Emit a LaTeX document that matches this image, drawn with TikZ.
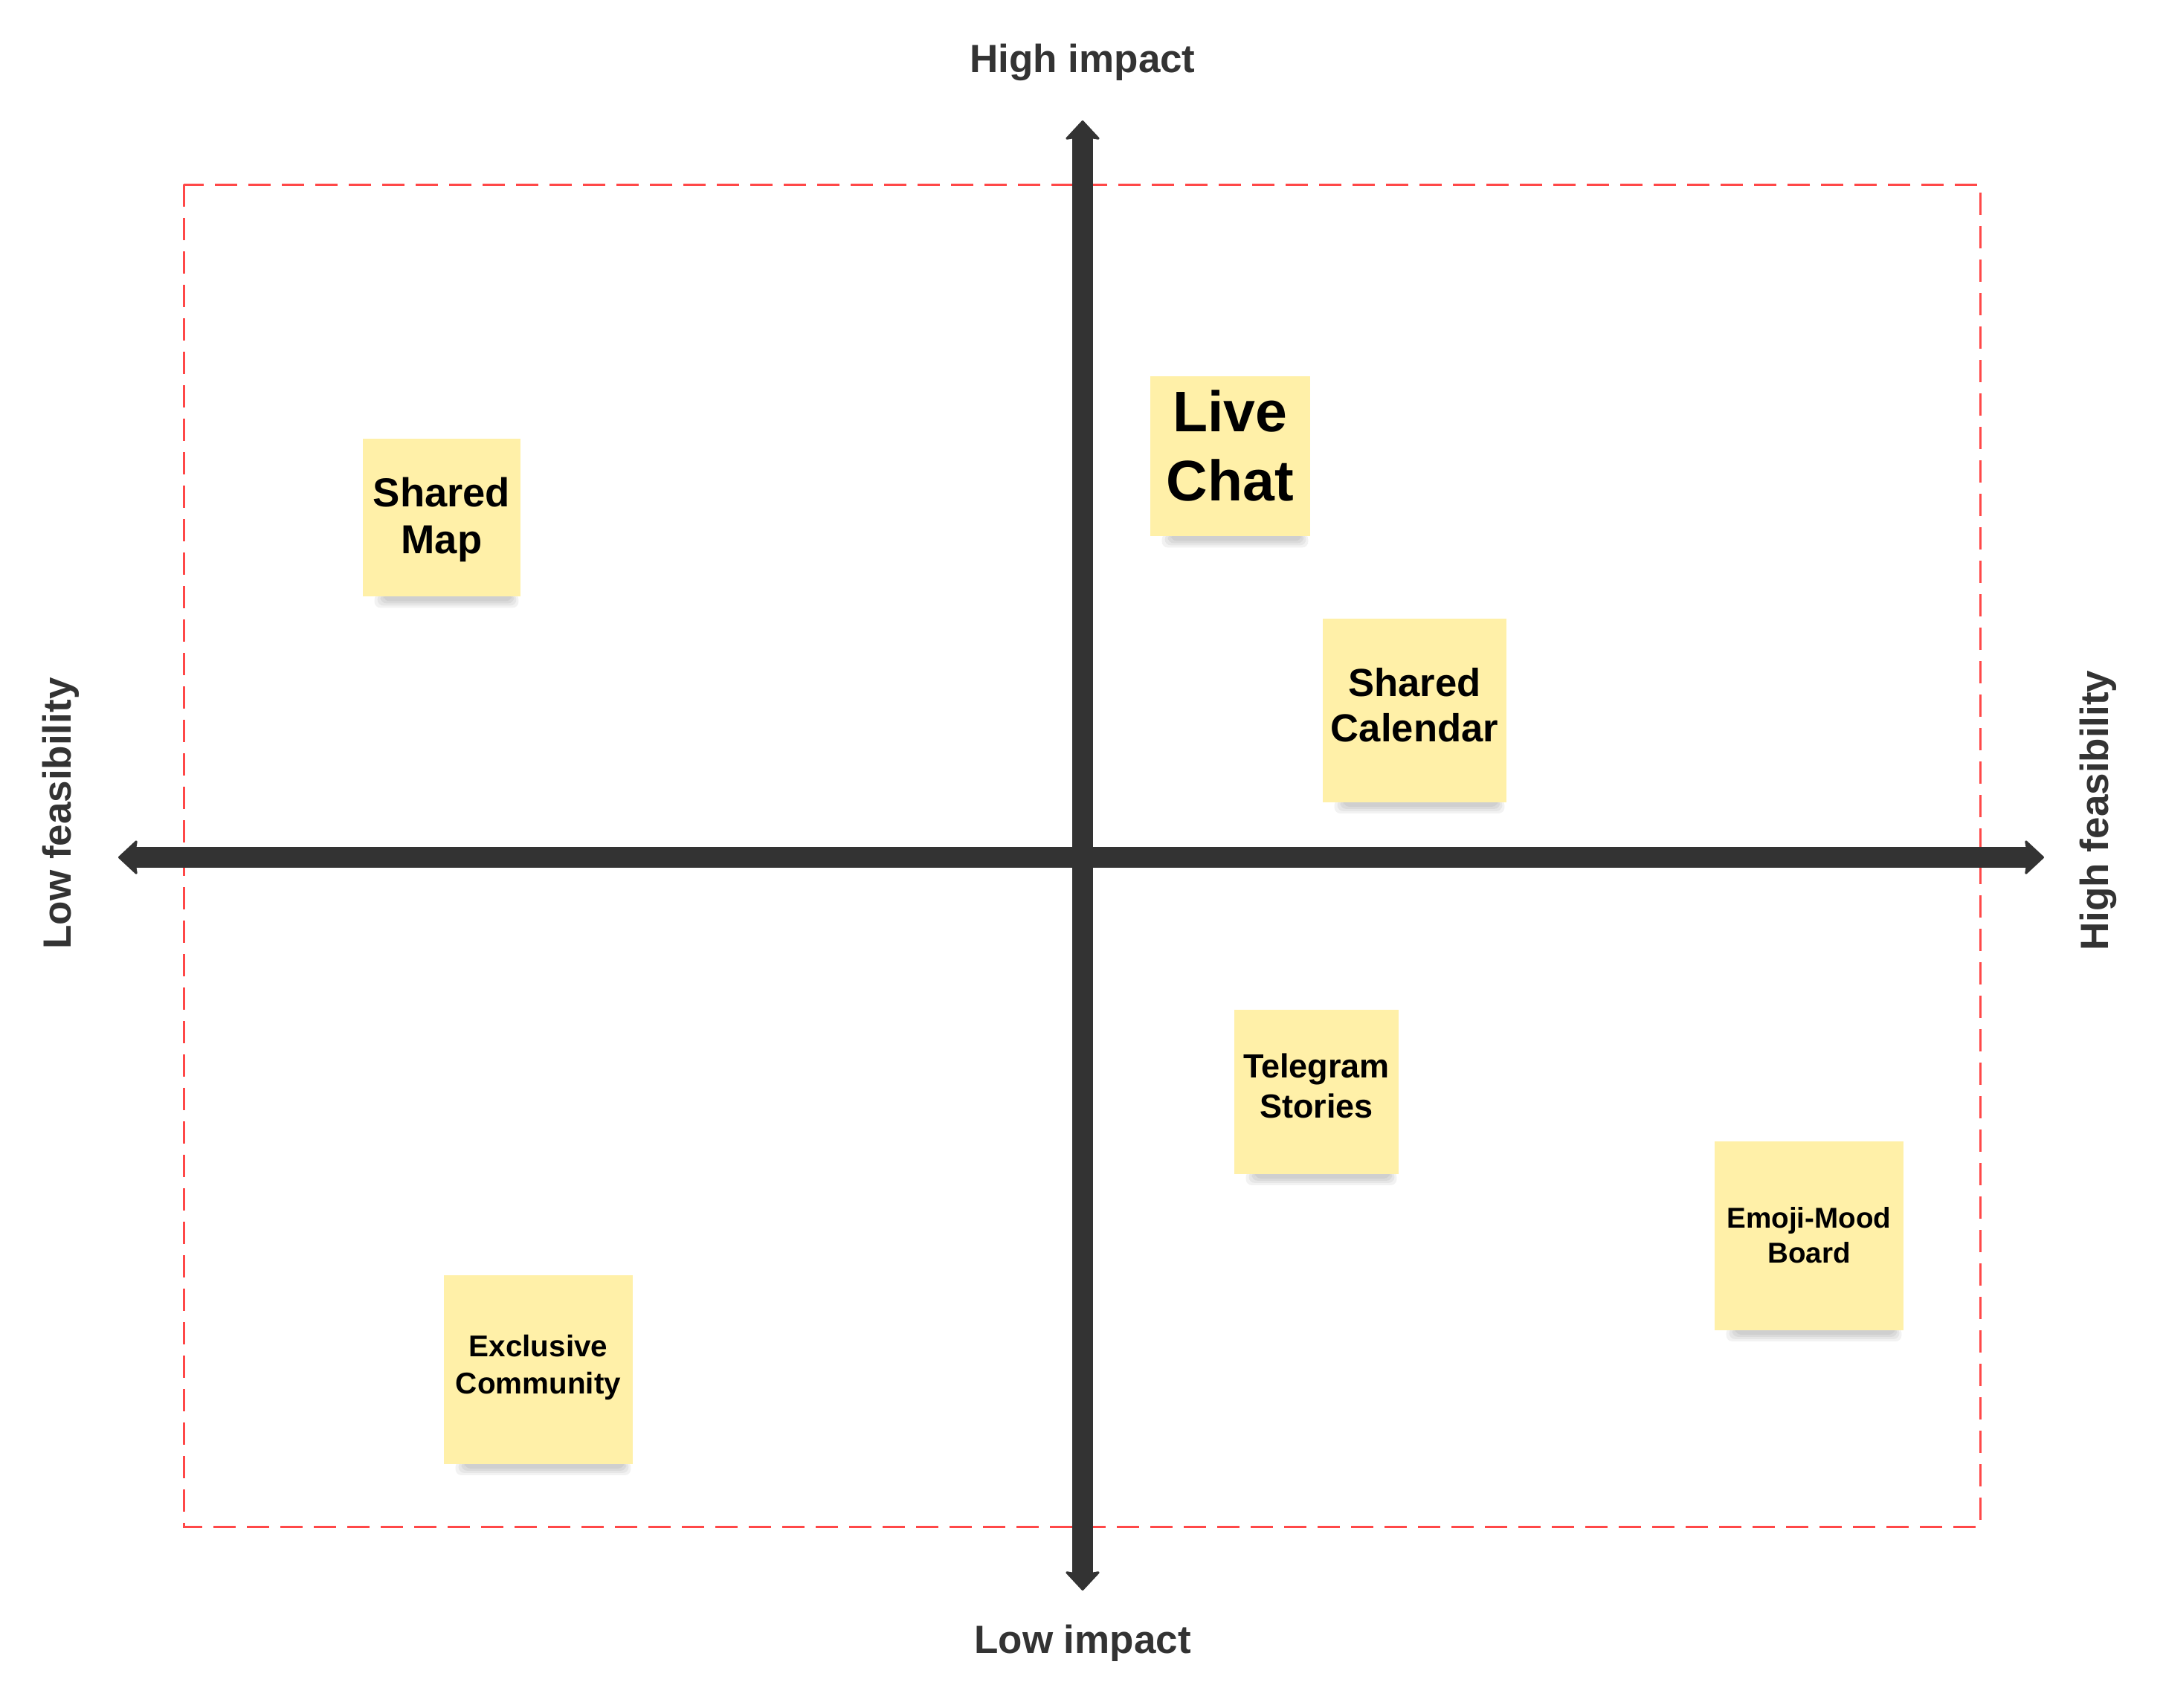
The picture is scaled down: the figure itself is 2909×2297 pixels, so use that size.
\documentclass[tikz,border=0pt]{standalone}
\usepackage{fontspec}
\setmainfont{Liberation Sans}
\usetikzlibrary{arrows.meta}
\usetikzlibrary{backgrounds}
\usetikzlibrary{calc}
\definecolor{axisgray}{RGB}{51,51,51}
\definecolor{notefill}{RGB}{255,240,168}
\definecolor{boxred}{RGB}{255,72,72}
\tikzset{>={Stealth[length=13.5pt, width=25pt, inset=2pt, round, line width=1.5pt]}}
\tikzset{
  sticky/.style={fill=notefill, inner sep=0pt, minimum size=#1},
  axislabel/.style={text=axisgray, font=\fontsize{26.5}{30}\selectfont\bfseries, inner sep=0pt},
  notetext/.style={align=center, text=black, inner sep=0pt}
}

\begin{document}
\begin{tikzpicture}[x=0.5pt, y=-0.5pt]
  \useasboundingbox (0,0) rectangle (2909,2297);
  \draw[boxred, line width=1.5pt, dash pattern=on 15pt off 7.5pt] (247,248) rectangle (2663,2053);

  \coordinate (top) at (1456,162);
  \coordinate (bottom) at (1456,2139);
  \coordinate (left) at (159,1153);
  \coordinate (right) at (2749,1153);
  \draw[axisgray, line width=14pt, <->] (left) -- (right);
  \draw[axisgray, line width=14pt, <->] (bottom) -- (top);

  \node[axislabel, anchor=base] (highimpact) at (1456,97) {High impact};
  \node[axislabel, anchor=base] (lowimpact) at (1456,2223) {Low impact};
  \node[axislabel, anchor=base, rotate=90] (lowfeas) at (95,1094) {Low feasibility};
  \node[axislabel, anchor=base, rotate=90] (highfeas) at (2835,1090) {High feasibility};

  \node[sticky=106pt] (map) at (594,696) {};
  \node[sticky=107.5pt] (chat) at (1654.5,613.5) {};
  \node[sticky=123.5pt] (cal) at (1902.5,955) {};
  \node[sticky=110.5pt] (tele) at (1770.5,1468) {};
  \node[sticky=127pt] (emoji) at (2433,1661.5) {};
  \node[sticky=127pt] (excl) at (724,1841.5) {};

  \node[notetext, font=\fontsize{27.2}{31.5}\selectfont\bfseries] (maptext) at ([yshift=-1.7pt]map.center) {Shared\\Map};
  \node[notetext, font=\fontsize{38.5}{46.5}\selectfont\bfseries] (chattext) at ([yshift=7pt]chat.center) {Live\\Chat};
  \node[notetext, font=\fontsize{26.3}{30.5}\selectfont\bfseries] (caltext) at ([yshift=3.5pt]cal.center) {Shared\\Calendar};
  \node[notetext, font=\fontsize{22.5}{27}\selectfont\bfseries] (teletext) at ([yshift=4pt]tele.center) {Telegram\\Stories};
  \node[notetext, font=\fontsize{19.3}{23.5}\selectfont\bfseries] (emojitext) at (emoji.center) {Emoji-Mood\\Board};
  \node[notetext, font=\fontsize{20.2}{25}\selectfont\bfseries] (excltext) at ([yshift=1pt]excl.center) {Exclusive\\Community};

  \begin{scope}[on background layer]
    \foreach \n in {map,chat,cal,tele,emoji,excl}
      \foreach \k in {0,...,3}
        \fill[black, opacity=.05, rounded corners=4pt]
          ($(\n.south west)+(16+4*\k,-4)$) rectangle ($(\n.south east)+(-3-3*\k,15-3*\k)$);
  \end{scope}
\end{tikzpicture}
\end{document}
